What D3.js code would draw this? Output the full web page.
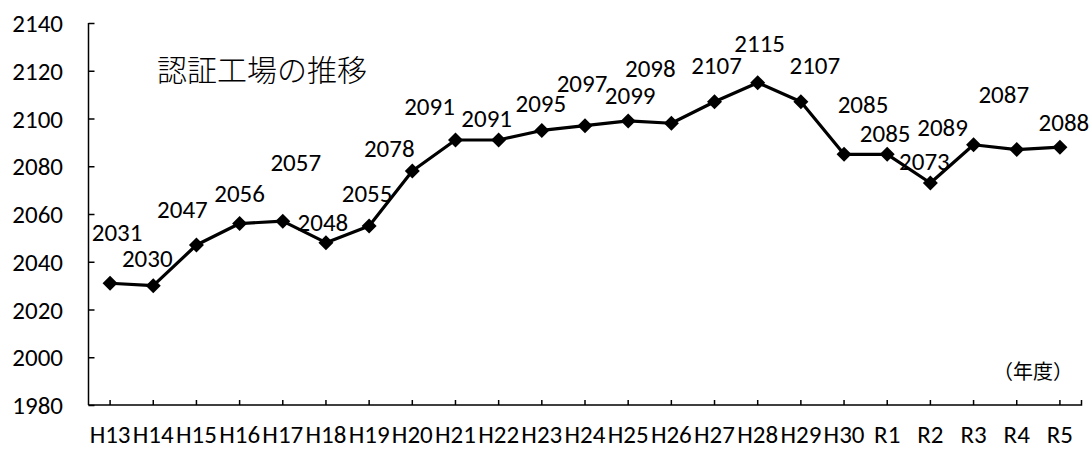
<!DOCTYPE html>
<html>
<head>
<meta charset="utf-8">
<script src="https://cdn.jsdelivr.net/npm/d3@7"></script>
<style>
	body { margin: 0; background: #fff; }
	text { fill: #000; }
</style>
</head>
<body>
<script>
(function () {
	//chart data
	var years = ["H13","H14","H15","H16","H17","H18","H19","H20","H21","H22","H23","H24",
		"H25","H26","H27","H28","H29","H30","R1","R2","R3","R4","R5"];
	var factories = [2031,2030,2047,2056,2057,2048,2055,2078,2091,2091,2095,2097,
		2099,2098,2107,2115,2107,2085,2085,2073,2089,2087,2088];
	var yTicks = [1980,2000,2020,2040,2060,2080,2100,2120,2140];
	//hand placed label offsets (dx, dy) from each point, like the original
	var labelOffsets = [[7,-51],[-6,-28],[-14,-36],[0,-31],[13,-59],[-3,-21],[-2,-33],
		[-23,-23],[-26,-34],[-12,-22],[-1,-27],[-3,-43],[2,-26],[-21,-55],[2,-37],
		[2,-40],[14,-37],[19,-50],[-2,-21],[-6,-22],[-31,-18],[-13,-56],[4,-25]];

	var width = 1092, height = 450;
	var left = 88.5, right = 1081.5, top = 23, bottom = 405;
	var numFont = "Carlito, Calibri, Lato, sans-serif";
	var numSize = "25px";
	var cjkFont = "'Noto Sans CJK JP', 'Noto Sans', sans-serif";

	var svg = d3.select("body").append("svg")
		.attr("width", width)
		.attr("height", height);

	var x = d3.scaleBand().domain(years).range([left, right]).padding(0);
	var y = d3.scaleLinear().domain([1980, 2140]).range([bottom, top]);
	function cx(d) { return x(d) + x.bandwidth() / 2; }

	//y axis
	var yAxis = svg.append("g")
		.attr("transform", "translate(" + left + ",0)")
		.call(d3.axisRight(y).tickValues(yTicks).tickSize(6).tickFormat(""));
	yAxis.select(".domain").attr("d", "M0," + top + "V" + bottom).attr("stroke-width", 1.5);
	yAxis.selectAll(".tick line").attr("stroke-width", 1.5);

	svg.selectAll(".ylab")
		.data(yTicks)
		.enter()
		.append("text")
		.attr("class", "ylab")
		.attr("x", 63)
		.attr("y", function (d) { return y(d); })
		.attr("dy", "0.36em")
		.attr("text-anchor", "end")
		.style("font-family", numFont)
		.style("font-size", numSize)
		.text(function (d) { return d; });

	//x axis
	var xAxis = svg.append("g")
		.attr("transform", "translate(0," + bottom + ")")
		.call(d3.axisTop(x).tickSize(5).tickFormat(""));
	xAxis.select(".domain").attr("d", "M" + left + ",0H" + right + "V-5").attr("stroke-width", 1.5);
	xAxis.selectAll(".tick line").attr("stroke-width", 1.5);

	svg.selectAll(".xlab")
		.data(years)
		.enter()
		.append("text")
		.attr("class", "xlab")
		.attr("x", cx)
		.attr("y", 443)
		.attr("text-anchor", "middle")
		.style("font-family", numFont)
		.style("font-size", numSize)
		.text(function (d) { return d; });

	//line
	var line = d3.line()
		.x(function (d, i) { return cx(years[i]); })
		.y(function (d) { return y(d); });

	svg.append("path")
		.datum(factories)
		.attr("d", line)
		.attr("fill", "none")
		.attr("stroke", "#000")
		.attr("stroke-width", 3.2)
		.attr("stroke-linejoin", "round");

	//diamond markers
	svg.selectAll(".marker")
		.data(factories)
		.enter()
		.append("path")
		.attr("class", "marker")
		.attr("d", "M0,-7.5L7.5,0L0,7.5L-7.5,0Z")
		.attr("transform", function (d, i) {
			return "translate(" + cx(years[i]) + "," + y(d) + ")";
		})
		.attr("fill", "#000");

	//data labels
	svg.selectAll(".vlab")
		.data(factories)
		.enter()
		.append("text")
		.attr("class", "vlab")
		.attr("x", function (d, i) { return cx(years[i]) + labelOffsets[i][0]; })
		.attr("y", function (d, i) { return y(d) + labelOffsets[i][1]; })
		.attr("dy", "0.36em")
		.attr("text-anchor", "middle")
		.style("font-family", numFont)
		.style("font-size", numSize)
		.text(function (d) { return d; });

	//title and unit
	svg.append("text")
		.attr("x", 157)
		.attr("y", 70)
		.attr("dy", "0.36em")
		.style("font-family", cjkFont)
		.style("font-size", "30px")
		.style("font-weight", 300)
		.text("認証工場の推移");

	svg.append("text")
		.attr("x", 993)
		.attr("y", 372)
		.attr("dy", "0.36em")
		.style("font-family", cjkFont)
		.style("font-size", "20px")
		.text("（年度）");
})();
</script>
</body>
</html>
